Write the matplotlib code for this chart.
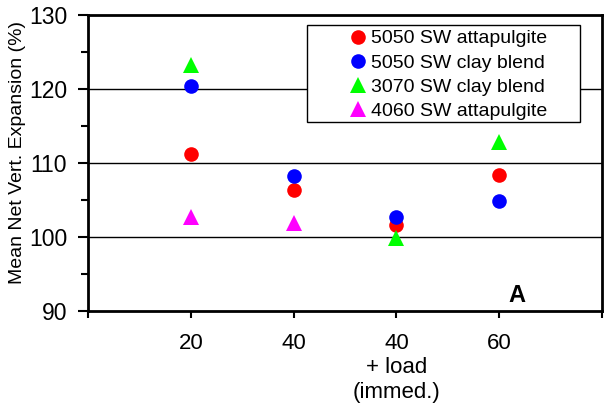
import matplotlib
matplotlib.use("Agg")
import matplotlib.pyplot as plt
from matplotlib.patches import Rectangle
from matplotlib.lines import Line2D

plt.rcParams['font.family'] = ['Liberation Sans', 'DejaVu Sans']

categories = ['20', '40', '40\n+ load\n(immed.)', '60']
series_names = ['5050 SW attapulgite', '5050 SW clay blend', '3070 SW clay blend', '4060 SW attapulgite']
att5050 = [111.2, 106.4, 101.6, 108.4]
clay5050 = [120.4, 108.2, 102.7, 104.9]
clay3070 = [123.2, None, 99.8, 112.8]
att4060 = [102.7, 101.9, None, None]

colors = ['#FF0000', '#0000FF', '#00FF00', '#FF00FF']
markers = ['o', 'o', '^', '^']
values = [att5050, clay5050, clay3070, att4060]

fig = plt.figure(figsize=(6.08, 4.09), dpi=100)
ax = fig.add_axes([88/608, 1-311/409, 514/608, 296/409])

xpos = list(range(1, len(categories)+1))
for name, vals, c, m in zip(series_names, values, colors, markers):
    xs = [x for x, v in zip(xpos, vals) if v is not None]
    ys = [v for v in vals if v is not None]
    ax.plot(xs, ys, linestyle='none', marker=m, color=c, markersize=12 if m == '^' else 10.5,
            markeredgewidth=0, zorder=4, label=name)

ax.set_xlim(0, 5)
ax.set_ylim(90, 130)
ax.set_yticks([90, 100, 110, 120, 130])
ax.set_yticks([95, 105, 115, 125], minor=True)
ax.set_xticks(range(0, 6))
ax.set_xticklabels([''] + categories + [''], linespacing=1.2)
for gy in [100, 110, 120]:
    ax.axhline(gy, color='black', lw=1, zorder=1)

for s in ax.spines.values():
    s.set_linewidth(2)
ax.tick_params(axis='y', which='major', direction='out', length=7, width=1.5, labelsize=16.5, pad=8)
ax.tick_params(axis='y', which='minor', direction='out', length=5, width=1.5)
ax.tick_params(axis='x', direction='out', length=5, width=1.5, labelsize=16, pad=11)

ax.set_ylabel('Mean Net Vert. Expansion (%)', fontsize=14)
ax.yaxis.set_label_coords((26-88)/514, 0.534)

ax.text((517-88)/514, (311-295)/296, 'A', transform=ax.transAxes, fontsize=17,
        fontweight='bold', ha='center', va='center')

rect = Rectangle((0.426, 0.639), 0.531, 0.327, transform=ax.transAxes, fc='white',
                 ec='black', lw=1, zorder=3)
ax.add_patch(rect)
handles = [Line2D([], [], linestyle='none', marker=m, color=c, markersize=12 if m == '^' else 10.5,
                  markeredgewidth=0) for c, m in zip(colors, markers)]
leg = ax.legend(handles, series_names, loc='upper left', frameon=False,
                bbox_to_anchor=((342-88)/514, (311-24)/296), fontsize=14,
                handlelength=1.0, handletextpad=0.2, labelspacing=0.34,
                borderpad=0.3, borderaxespad=0, numpoints=1)
leg.set_zorder(6)

fig.savefig('out.png', dpi=100)
